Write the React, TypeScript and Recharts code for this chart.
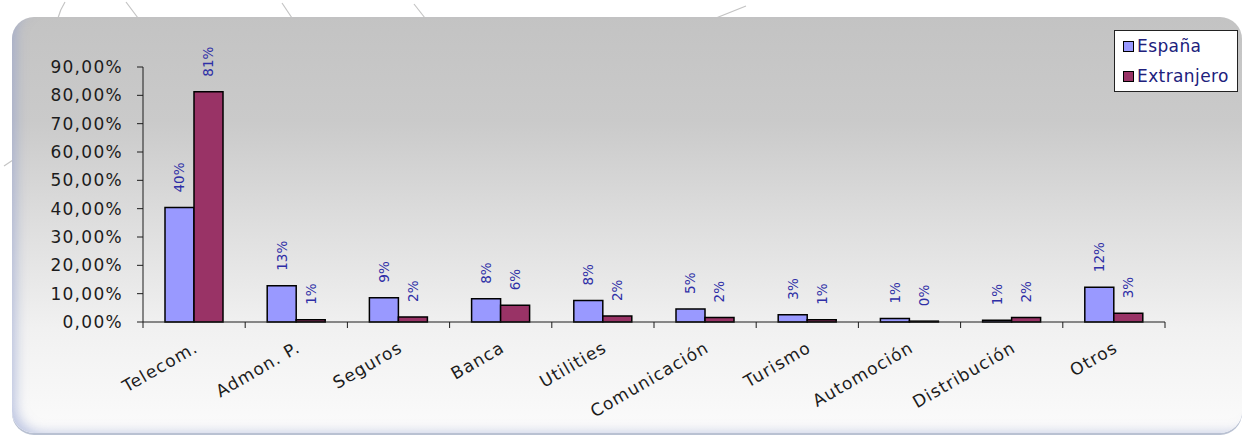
import { Bar, BarChart, LabelList, Legend, XAxis, YAxis } from "recharts";

const CATEGORIES = [
  "Telecom.",
  "Admon. P.",
  "Seguros",
  "Banca",
  "Utilities",
  "Comunicación",
  "Turismo",
  "Automoción",
  "Distribución",
  "Otros",
];
const ESPANA = [40.4, 12.8, 8.6, 8.2, 7.6, 4.6, 2.6, 1.2, 0.6, 12.3];
const EXTRANJERO = [81.3, 0.8, 1.8, 5.9, 2.1, 1.6, 0.8, 0.3, 1.6, 3.1];
const Y_TICKS = [0, 10, 20, 30, 40, 50, 60, 70, 80, 90];

const data = CATEGORIES.map((name, i) => ({
  name,
  espana: ESPANA[i],
  extranjero: EXTRANJERO[i],
}));

const W = 1258;
const H = 437;
const margin = { top: 67, right: 93, left: 8, bottom: 35 };
const Y_AXIS_W = 135;
const band = (W - margin.left - margin.right - Y_AXIS_W) / CATEGORIES.length;

const FONT = "'DejaVu Sans', Verdana, sans-serif";
const INK = "#1c1c1c";

const fmtAxis = (v: number) => v.toFixed(2).replace(".", ",") + "%";

// category labels slanted up-right, with tick marks on the band edges
function CategoryTick({ x, y, payload, index }: any) {
  return (
    <g>
      <line x1={x - band / 2} x2={x - band / 2} y1={y} y2={y + 6} stroke={INK} />
      {index === CATEGORIES.length - 1 && (
        <line x1={x + band / 2} x2={x + band / 2} y1={y} y2={y + 6} stroke={INK} />
      )}
      <text
        x={x + 5}
        y={y + 29}
        transform={`rotate(-30 ${x + 5} ${y + 29})`}
        textAnchor="end"
        fontFamily={FONT}
        fontSize={17}
        letterSpacing={1.1}
        fill={INK}
      >
        {payload.value}
      </text>
    </g>
  );
}

function ValueLabel({ x, y, width, value }: any) {
  const cx = x + width / 2;
  const ty = y - 15;
  return (
    <text
      x={cx}
      y={ty}
      transform={`rotate(-90 ${cx} ${ty})`}
      textAnchor="start"
      dominantBaseline="central"
      fontFamily={FONT}
      fontSize={13.5}
      fill="#2e2ea6"
    >
      {Math.round(value)}%
    </text>
  );
}

function LegendBox({ payload }: any) {
  return (
    <div
      style={{
        background: "#fff",
        border: "1px solid #222",
        padding: "0 6px 0 8px",
        fontFamily: FONT,
        fontSize: 17,
        letterSpacing: 0.4,
        color: "#20207c",
      }}
    >
      {(payload || []).map((p: any) => (
        <div key={p.value} style={{ height: 30, display: "flex", alignItems: "center" }}>
          <span
            style={{
              display: "inline-block",
              width: 9,
              height: 9,
              background: p.color,
              border: "1.5px solid #000",
              marginRight: 3,
            }}
          />
          {p.value}
        </div>
      ))}
    </div>
  );
}

export default function App() {
  return (
    <div
      style={{
        position: "absolute",
        left: 0,
        top: 0,
        width: W,
        height: H,
        background: "#fff",
        overflow: "hidden",
      }}
    >
      {/* faint decorative strokes around the panel */}
      <svg width={W} height={H} style={{ position: "absolute", left: 0, top: 0 }}>
        <g stroke="#c4c4c4" strokeWidth={1.2} fill="none">
          <path d="M58 18 Q60 10 65 2" />
          <path d="M126 2 L138 18" />
          <path d="M282 3 L292 18" />
          <path d="M414 4 L425 18" />
          <path d="M746 6 L716 18" />
          <path d="M4 166 L16 158" />
        </g>
      </svg>
      <div
        style={{
          position: "absolute",
          left: 12,
          top: 17,
          width: 1230,
          height: 416,
          borderRadius: 22,
          background:
            "linear-gradient(to bottom, #c3c3c3 0%, #cacaca 25%, #dedede 50%, #f1f1f1 75%, #fbfbfb 100%)",
          boxShadow:
            "inset 10px -6px 12px -6px rgba(140,155,205,0.55), 0 2px 0 #b9c1d2",
        }}
      />
      <div style={{ position: "absolute", left: 0, top: 0 }}>
        <BarChart
          width={W}
          height={H}
          data={data}
          margin={margin}
          barGap={0}
          barCategoryGap={22}
        >
          <XAxis
            dataKey="name"
            height={80}
            interval={0}
            stroke={INK}
            tickLine={false}
            tickSize={0}
            tickMargin={0}
            tick={<CategoryTick />}
          />
          <YAxis
            width={Y_AXIS_W}
            domain={[0, 90]}
            ticks={Y_TICKS}
            stroke={INK}
            tickSize={6}
            tickMargin={14}
            tickFormatter={fmtAxis}
            tick={{ fill: INK, fontFamily: FONT, fontSize: 17, letterSpacing: 1.3 }}
          />
          <Legend
            layout="horizontal"
            verticalAlign="middle"
            align="center"
            content={<LegendBox />}
            wrapperStyle={{ left: 1114, top: 30, width: 124 }}
          />
          <Bar
            dataKey="espana"
            name="España"
            fill="#9999ff"
            stroke="#000"
            strokeWidth={1.5}
            isAnimationActive={false}
          >
            <LabelList dataKey="espana" content={<ValueLabel />} />
          </Bar>
          <Bar
            dataKey="extranjero"
            name="Extranjero"
            fill="#993366"
            stroke="#000"
            strokeWidth={1.5}
            isAnimationActive={false}
          >
            <LabelList dataKey="extranjero" content={<ValueLabel />} />
          </Bar>
        </BarChart>
      </div>
    </div>
  );
}
